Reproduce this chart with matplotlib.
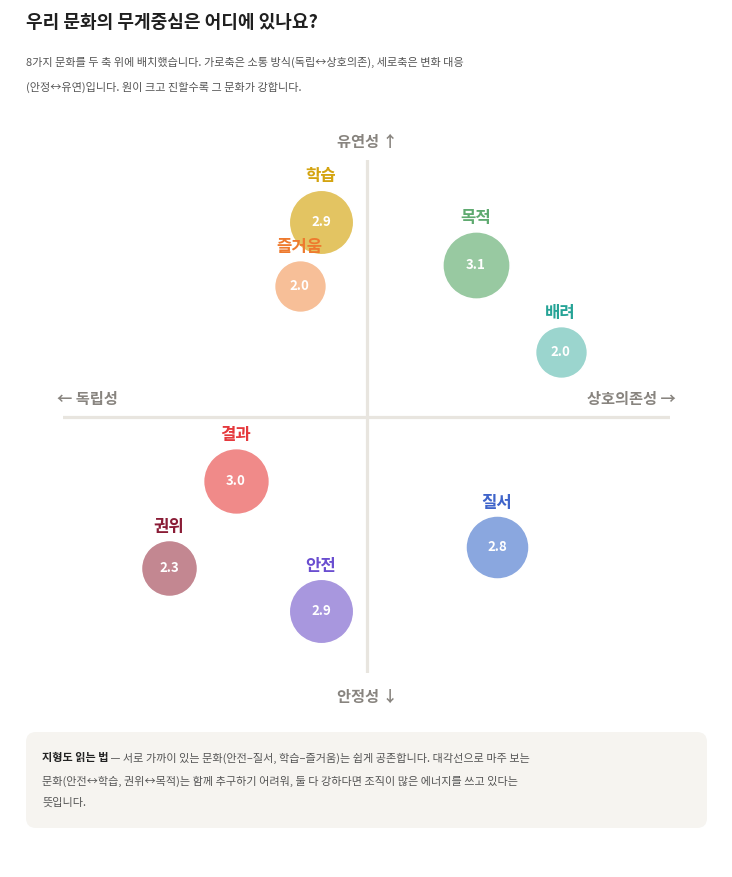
import matplotlib
matplotlib.use('agg')
import matplotlib.pyplot as plt
from matplotlib.patches import FancyBboxPatch

plt.rcParams['font.family'] = ['Noto Sans CJK KR', 'DejaVu Sans']

# culture positions on the two axes (-1..1), and strength score
cultures = ['학습', '즐거움', '목적', '배려', '결과', '권위', '안전', '질서']
x_pos = [-0.15, -0.22, 0.36, 0.64, -0.43, -0.65, -0.15, 0.43]
y_pos = [0.76, 0.51, 0.59, 0.25, -0.25, -0.59, -0.76, -0.51]
scores = [2.9, 2.0, 3.1, 2.0, 3.0, 2.3, 2.9, 2.8]
fill_colors = ['#E3C462', '#F7BF98', '#98C9A1', '#9BD5CE', '#F08A89', '#C38791', '#A897DE', '#8AA7DF']
label_colors = ['#D4A410', '#EE7A2E', '#5FAA70', '#25A396', '#E5383C', '#8A1C36', '#6A4ED0', '#3F64CA']

W, H = 732, 877
fig = plt.figure(figsize=(W / 100, H / 100), dpi=100)

# overlay axes in pixel coordinates for text and the note box
bg = fig.add_axes([0, 0, 1, 1])
bg.set_xlim(0, W)
bg.set_ylim(H, 0)
bg.axis('off')

# main quadrant axes
left, right, top, bottom = 63, 670, 160, 673
ax = fig.add_axes([left / W, 1 - bottom / H, (right - left) / W, (bottom - top) / H])
ax.set_xlim(-1, 1)
ax.set_ylim(-1, 1)
ax.patch.set_alpha(0)
ax.axis('off')

ax.axhline(0, color='#E8E5DF', lw=2.3, zorder=1)
ax.axvline(0, color='#E8E5DF', lw=2.3, zorder=1)

for name, x, y, s, fc, lc in zip(cultures, x_pos, y_pos, scores, fill_colors, label_colors):
    r_px = 12 + 7 * s
    size_pt = 2 * r_px * 0.72
    ax.scatter([x], [y], s=size_pt ** 2, color=fc, edgecolors='white', linewidths=1.2, zorder=3)
    ax.text(x, y, f'{s:.1f}', ha='center', va='center', color='white',
            fontsize=9.5, fontweight='bold', zorder=4)
    ax.annotate(name, (x, y), xytext=(0, (r_px + 13) * 0.72), textcoords='offset points',
                ha='center', va='center', color=lc, fontsize=12, fontweight='bold',
                zorder=5, annotation_clip=False)

# axis direction labels
axis_gray = '#88847F'
bg.text(367, 142, '유연성 ↑', ha='center', va='center', color=axis_gray, fontsize=11, fontweight='bold')
bg.text(367, 697, '안정성 ↓', ha='center', va='center', color=axis_gray, fontsize=11, fontweight='bold')
bg.text(57, 399, '← 독립성', ha='left', va='center', color=axis_gray, fontsize=11, fontweight='bold')
bg.text(676, 399, '상호의존성 →', ha='right', va='center', color=axis_gray, fontsize=11, fontweight='bold')

# title and subtitle
bg.text(26, 22, '우리 문화의 무게중심은 어디에 있나요?', ha='left', va='center',
        color='#1F1F1F', fontsize=13, fontweight='bold')
sub_lines = ['8가지 문화를 두 축 위에 배치했습니다. 가로축은 소통 방식(독립↔상호의존), 세로축은 변화 대응',
             '(안정↔유연)입니다. 원이 크고 진할수록 그 문화가 강합니다.']
for i, line in enumerate(sub_lines):
    bg.text(26, 62 + 25 * i, line, ha='left', va='center', color='#555555', fontsize=8)

# note box
box = FancyBboxPatch((26, 732), 681, 96, boxstyle='round,pad=0,rounding_size=10',
                     facecolor='#F6F4F0', edgecolor='none')
bg.add_patch(box)
head = bg.text(42, 758, '지형도 읽는 법', ha='left', va='center', color='#222222',
               fontsize=8, fontweight='bold')
bg.annotate(' — 서로 가까이 있는 문화(안전–질서, 학습–즐거움)는 쉽게 공존합니다. 대각선으로 마주 보는',
            xy=(1, 0.5), xycoords=head, ha='left', va='center', color='#555555', fontsize=8)
bg.text(42, 781, '문화(안전↔학습, 권위↔목적)는 함께 추구하기 어려워, 둘 다 강하다면 조직이 많은 에너지를 쓰고 있다는',
        ha='left', va='center', color='#555555', fontsize=8)
bg.text(42, 803, '뜻입니다.', ha='left', va='center', color='#555555', fontsize=8)

fig.savefig('out.png', dpi=100)
